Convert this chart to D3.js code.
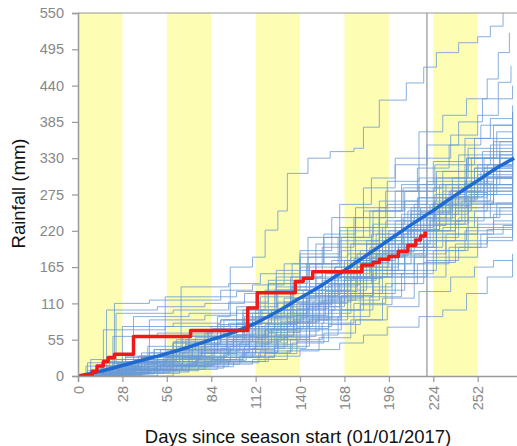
<!DOCTYPE html>
<html>
<head>
<meta charset="utf-8">
<script src="https://cdn.jsdelivr.net/npm/d3@7"></script>
<style>
  body { margin: 0; background: #fff; font-family: "Liberation Sans", Arial, sans-serif; }
</style>
</head>
<body>
<svg id="chart" width="517" height="446"></svg>
<script>
// y ticks / x ticks
const yTicks = [0, 55, 110, 165, 220, 275, 330, 385, 440, 495, 550];
const xTicks = [0, 28, 56, 84, 112, 140, 168, 196, 224, 252];
// yellow 28-day bands (start day of each)
const bandStarts = [0, 56, 112, 168, 224];
const todayLine = 220;

// observed cumulative rainfall (day, mm)
const observed = [[0,0],[4,2],[9,7],[12,15],[16,22],[19,28],[23,33],[35,60],[71,69],[107,103],[113,126],
  [137,143],[142,148],[148,158],[179,168],[186,172],[190,177],[196,181],[202,189],[208,198],[213,206],[216,212],[219,219]];

// ensemble median (day, mm)
const median = [[0,0],[14,7],[28,16],[42,25],[56,34],[70,44],[84,55],[98,66],[112,80],[126,98],[140,118],
  [154,138],[168,160],[182,183],[196,206],[210,229],[224,251],[238,274],[252,296],[266,318],[275,330]];

// historical years (day, mm)
const members = [
  [[0,0],[20,4],[45,15],[70,40],[88,90],[96,165],[110,180],[118,221],[126,250],[132,307],[145,330],[159,340],[174,345],[180,377],[190,418],[207,444],[218,468],[226,490],[240,505],[252,514],[260,530],[268,552]],
  [[0,0],[25,10],[50,30],[80,55],[105,90],[125,150],[145,210],[165,260],[185,300],[200,330],[215,370],[230,395],[245,420],[258,450],[265,490],[272,520]],
  [[0,0],[15,20],[40,35],[70,60],[100,95],[120,140],[140,190],[160,240],[180,285],[200,320],[220,350],[240,385],[255,420],[265,445],[273,470]],
  [[0,0],[10,5],[30,22],[60,50],[90,85],[115,120],[135,170],[155,215],[175,255],[195,295],[215,330],[235,365],[252,395],[265,420],[274,440]],
  [[0,0],[14,8],[18,100],[50,105],[80,110],[105,125],[125,160],[150,200],[175,240],[200,280],[225,320],[250,360],[274,385]],
  [[0,0],[20,15],[24,95],[60,100],[95,112],[120,140],[145,180],[170,225],[195,260],[220,295],[245,330],[274,360]],
  [[0,0],[8,10],[23,110],[45,115],[90,130],[110,138],[130,170],[155,210],[180,250],[205,285],[230,310],[255,340],[274,355]],
  [[0,0],[30,20],[35,90],[70,95],[100,100],[118,130],[140,165],[165,205],[190,240],[215,270],[240,300],[274,330]],
  [[0,0],[40,25],[45,85],[80,92],[100,105],[125,135],[150,170],[175,200],[200,235],[225,265],[250,290],[274,310]],
  [[0,0],[25,18],[28,75],[60,80],[90,85],[112,100],[135,135],[160,175],[185,215],[210,250],[235,280],[274,315]],
  [[0,0],[60,40],[65,135],[95,140],[115,155],[140,185],[165,225],[190,265],[215,300],[240,335],[274,375]],
  [[0,0],[50,30],[55,120],[100,128],[120,145],[140,180],[165,220],[190,255],[215,290],[245,330],[274,345]],
  [[0,0],[12,3],[30,10],[52,18],[75,30],[95,45],[118,70],[138,110],[160,150],[178,190],[200,225],[222,260],[240,290],[258,320],[274,340]],
  [[0,0],[18,6],[36,14],[58,25],[78,40],[98,58],[120,85],[142,120],[162,165],[182,200],[205,240],[225,275],[245,310],[262,345],[274,365]],
  [[0,0],[9,2],[27,5],[48,12],[70,20],[92,32],[112,50],[132,80],[155,115],[175,150],[198,185],[218,220],[238,255],[256,285],[274,300]],
  [[0,0],[22,12],[44,22],[64,35],[86,55],[108,75],[128,100],[146,140],[168,175],[188,215],[208,250],[228,290],[248,330],[264,370],[274,395]],
  [[0,0],[15,20],[33,22],[55,28],[77,35],[96,45],[116,60],[136,85],[158,120],[180,160],[202,195],[224,230],[244,260],[262,285],[274,300]],
  [[0,0],[5,15],[28,18],[50,25],[72,42],[94,60],[114,90],[134,125],[154,160],[172,200],[194,235],[214,270],[236,300],[256,330],[274,350]],
  [[0,0],[20,2],[42,8],[62,15],[84,25],[104,40],[124,62],[144,90],[165,125],[186,160],[206,190],[226,215],[246,240],[264,262],[274,275]],
  [[0,0],[16,10],[38,20],[60,40],[80,65],[100,80],[122,100],[142,130],[162,165],[182,205],[204,245],[224,285],[244,320],[260,350],[274,380]],
  [[0,0],[24,5],[46,10],[68,18],[88,28],[110,42],[130,60],[150,85],[170,115],[190,150],[212,185],[232,215],[252,240],[266,255],[274,265]],
  [[0,0],[10,8],[32,15],[54,32],[76,48],[98,62],[118,78],[138,102],[158,138],[178,175],[198,210],[218,240],[238,270],[258,300],[274,320]],
  [[0,0],[28,25],[48,40],[68,55],[90,70],[112,90],[130,118],[150,150],[170,185],[190,220],[210,255],[230,290],[250,315],[266,335],[274,345]],
  [[0,0],[14,4],[34,9],[56,16],[80,22],[102,30],[124,45],[146,70],[166,100],[186,130],[206,160],[226,190],[246,215],[262,235],[274,250]],
  [[0,0],[20,10],[40,28],[60,50],[82,70],[104,95],[126,130],[146,170],[166,210],[186,250],[206,280],[226,310],[246,345],[262,380],[274,400]],
  [[0,0],[12,12],[36,25],[58,30],[80,38],[102,50],[122,72],[142,100],[162,130],[182,165],[202,200],[222,235],[242,265],[260,290],[274,305]],
  [[0,0],[26,3],[48,6],[70,12],[92,20],[114,35],[134,55],[154,80],[174,110],[194,140],[214,170],[234,195],[254,215],[268,228],[274,235]],
  [[0,0],[6,20],[30,28],[52,40],[74,58],[96,78],[116,100],[136,130],[156,155],[176,185],[196,220],[216,255],[236,285],[256,315],[274,330]],
  [[0,0],[18,14],[40,22],[62,30],[84,45],[106,65],[126,90],[146,125],[166,160],[186,190],[206,215],[226,245],[246,275],[264,300],[274,310]],
  [[0,0],[22,6],[44,18],[66,35],[88,52],[110,70],[132,95],[152,130],[172,170],[192,205],[212,240],[232,270],[252,290],[266,305],[274,315]],
  [[0,0],[20,3],[45,8],[70,15],[95,22],[120,30],[140,40],[165,50],[180,62],[195,74],[215,90],[230,100],[245,125],[258,150],[274,176]],
  [[0,0],[15,5],[40,10],[65,18],[90,28],[115,38],[135,50],[155,65],[175,85],[195,105],[215,128],[235,150],[250,165],[262,175],[274,185]],
  [[0,0],[25,8],[50,15],[75,25],[100,40],[120,55],[140,75],[160,100],[180,125],[200,150],[220,175],[240,195],[258,210],[274,225]],
  [[0,0],[10,2],[35,12],[60,22],[85,35],[108,55],[130,80],[150,110],[170,140],[190,170],[210,195],[230,225],[250,250],[274,270]],
  [[0,0],[30,15],[55,20],[80,28],[105,45],[125,70],[145,105],[165,140],[185,180],[205,220],[225,255],[245,285],[262,310],[274,320]],
  [[0,0],[8,5],[26,12],[50,22],[72,30],[94,52],[114,75],[134,108],[154,145],[174,178],[194,210],[214,245],[234,280],[254,310],[274,335]],
  [[0,0],[16,22],[40,30],[64,38],[86,48],[108,60],[128,82],[148,112],[168,148],[188,185],[208,220],[228,250],[248,275],[274,290]],
  [[0,0],[36,5],[58,10],[80,18],[102,28],[124,42],[144,62],[164,90],[184,120],[204,155],[224,190],[244,220],[262,245],[274,260]],
  [[0,0],[20,25],[45,35],[68,48],[90,62],[112,80],[132,105],[152,140],[172,180],[192,225],[212,260],[232,290],[252,320],[266,355],[274,370]],
  [[0,0],[14,16],[38,24],[62,44],[84,60],[104,72],[124,88],[144,115],[164,150],[184,190],[204,225],[224,260],[244,295],[262,320],[274,330]],
  [[0,0],[28,12],[50,16],[72,20],[96,30],[118,48],[138,72],[158,100],[178,135],[198,170],[218,205],[238,235],[256,260],[274,280]],
  [[0,0],[12,7],[34,20],[56,30],[78,45],[100,62],[120,80],[140,108],[160,140],[180,175],[200,210],[220,245],[240,278],[258,300],[274,318]],
  [[0,0],[40,30],[62,55],[84,75],[106,88],[126,112],[146,148],[166,190],[186,230],[206,265],[226,300],[246,330],[262,355],[274,362]],
  [[0,0],[22,20],[44,45],[66,62],[88,78],[110,95],[130,112],[150,140],[170,175],[190,210],[210,245],[230,280],[250,315],[274,345]],
  [[0,0],[18,2],[40,4],[64,10],[88,18],[110,25],[132,38],[152,58],[172,85],[192,118],[212,150],[232,180],[252,205],[274,230]],
  [[0,0],[24,15],[48,22],[70,26],[92,35],[112,45],[132,68],[152,95],[172,125],[192,155],[212,180],[232,205],[252,230],[274,250]],
  [[0,0],[8,25],[30,30],[56,38],[80,50],[104,68],[124,92],[144,122],[164,155],[184,195],[204,230],[224,262],[244,292],[262,318],[274,330]],
  [[0,0],[32,10],[54,22],[76,40],[98,55],[118,70],[138,92],[158,125],[178,160],[198,190],[218,220],[238,250],[258,280],[274,295]],
  [[0,0],[16,4],[36,8],[58,14],[82,22],[104,35],[126,58],[146,88],[166,122],[186,160],[206,200],[226,235],[246,265],[262,290],[274,300]],
  [[0,0],[26,18],[50,30],[72,45],[94,58],[116,75],[136,100],[156,135],[176,172],[196,210],[216,248],[236,280],[256,310],[274,335]],
  [[0,0],[12,6],[16,70],[55,75],[95,80],[120,95],[145,120],[170,150],[195,180],[220,205],[245,225],[274,245]],
  [[0,0],[20,12],[22,60],[50,65],[85,72],[110,88],[135,118],[160,150],[185,185],[210,220],[235,255],[274,290]],
  [[0,0],[15,10],[38,30],[60,52],[82,70],[104,100],[124,130],[144,170],[164,210],[184,250],[204,290],[224,325],[244,360],[260,390],[274,410]],
  [[0,0],[25,20],[48,40],[70,60],[92,85],[114,110],[134,150],[154,195],[174,240],[194,280],[214,315],[234,350],[254,380],[274,400]],
  [[0,0],[10,3],[24,6],[44,10],[66,16],[86,24],[106,36],[126,55],[146,85],[166,120],[186,155],[206,195],[226,230],[246,262],[262,290],[274,305]],
  [[0,0],[30,8],[52,14],[74,24],[96,40],[116,62],[136,92],[156,128],[176,165],[196,200],[216,238],[236,272],[256,302],[274,325]],
  [[0,0],[6,8],[22,14],[42,20],[64,27],[86,38],[108,52],[128,75],[148,105],[168,145],[188,182],[208,222],[228,258],[248,290],[264,318],[274,340]],
  [[0,0],[34,20],[56,26],[78,34],[100,48],[120,66],[140,88],[160,118],[180,150],[200,182],[220,210],[240,240],[260,262],[274,272]],
  [[0,0],[18,8],[42,18],[66,28],[90,42],[112,58],[132,82],[152,112],[172,148],[192,188],[212,228],[232,268],[252,305],[266,340],[274,358]],
  [[0,0],[14,2],[32,4],[54,8],[76,14],[98,22],[118,34],[138,52],[158,78],[178,108],[198,140],[218,172],[238,200],[258,222],[274,240]]
];

{
  const svg = d3.select("#chart");
  const margin = { left: 78, top: 13, bottom: 70 };
  const H = 446;

  const x = d3.scaleLinear().domain([0, 280]).range([margin.left, margin.left + 280 * 1.586]);
  const y = d3.scaleLinear().domain([0, 550]).range([H - margin.bottom, margin.top]);

  const x0 = x(0), x1 = x(280), yTop = y(550), yBot = y(0);

  svg.append("clipPath").attr("id", "plotclip")
    .append("rect").attr("x", x0).attr("y", yTop).attr("width", x1 - x0).attr("height", yBot - yTop);

  // yellow bands
  svg.append("g").selectAll("rect")
    .data(bandStarts)
    .join("rect")
    .attr("x", d => x(d))
    .attr("y", yTop)
    .attr("width", d => x(d + 28) - x(d))
    .attr("height", yBot - yTop)
    .attr("fill", "#fdfdb4");

  // current day marker
  svg.append("line")
    .attr("x1", x(todayLine)).attr("x2", x(todayLine))
    .attr("y1", yTop).attr("y2", yBot)
    .attr("stroke", "#a8a8a8").attr("stroke-width", 1.5);

  const line = d3.line()
    .x(d => x(d[0]))
    .y(d => y(d[1]))
    .curve(d3.curveStepAfter);

  const plot = svg.append("g").attr("clip-path", "url(#plotclip)");

  // ensemble
  plot.append("g").selectAll("path")
    .data(members)
    .join("path")
    .attr("d", line)
    .attr("fill", "none")
    .attr("stroke", "#6a9bd6")
    .attr("stroke-opacity", 0.8)
    .attr("stroke-width", 1);

  // median
  plot.append("path")
    .datum(median)
    .attr("d", d3.line().x(d => x(d[0])).y(d => y(d[1])).curve(d3.curveMonotoneX))
    .attr("fill", "none")
    .attr("stroke", "#1e6ad0")
    .attr("stroke-width", 3.5);

  // observed
  plot.append("path")
    .datum(observed)
    .attr("d", line)
    .attr("fill", "none")
    .attr("stroke", "#f01818")
    .attr("stroke-width", 3.5)
    .attr("stroke-linejoin", "round");

  // frame top
  svg.append("line")
    .attr("x1", x0).attr("x2", x1).attr("y1", yTop).attr("y2", yTop)
    .attr("stroke", "#9a9a9a").attr("stroke-width", 1.2);

  // axes
  const yAxis = svg.append("g")
    .attr("transform", `translate(${x0},0)`)
    .call(d3.axisLeft(y).tickValues(yTicks).tickSize(6).tickPadding(8));
  const xAxis = svg.append("g")
    .attr("transform", `translate(0,${yBot})`)
    .call(d3.axisBottom(x).tickValues(xTicks).tickSize(6).tickPadding(4));

  [yAxis, xAxis].forEach(a => {
    a.select(".domain").attr("stroke", "#9a9a9a").attr("stroke-width", 1.5);
    a.selectAll(".tick line").attr("stroke", "#9a9a9a").attr("stroke-width", 1.2);
    a.selectAll("text")
      .attr("fill", "#888")
      .style("font-size", "14.5px")
      .style("font-family", "Liberation Sans, Arial, sans-serif");
  });

  xAxis.selectAll("text")
    .attr("transform", "rotate(-90)")
    .attr("x", -10)
    .attr("y", 0)
    .attr("dy", "0.35em")
    .attr("text-anchor", "end");

  // titles
  svg.append("text")
    .attr("x", (x0 + x1) / 2 - 2)
    .attr("y", 443)
    .attr("text-anchor", "middle")
    .attr("fill", "#111")
    .style("font-size", "18.5px")
    .text("Days since season start (01/01/2017)");

  svg.append("text")
    .attr("transform", `translate(25,${(yTop + yBot) / 2 - 1}) rotate(-90)`)
    .attr("text-anchor", "middle")
    .attr("fill", "#111")
    .style("font-size", "18.5px")
    .text("Rainfall (mm)");
}
</script>
</body>
</html>
